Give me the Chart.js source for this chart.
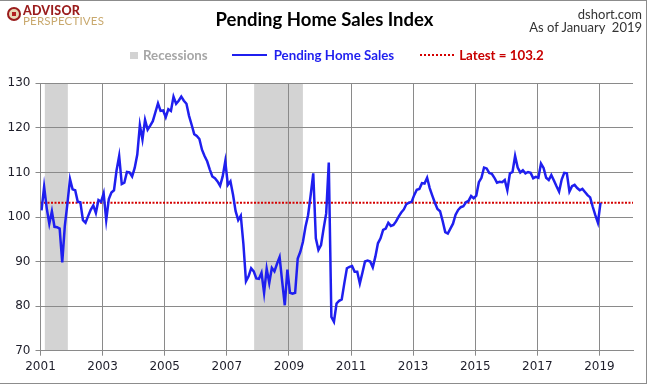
<!DOCTYPE html>
<html>
<head>
<meta charset="utf-8">
<title>Pending Home Sales Index</title>
<script src="https://cdn.jsdelivr.net/npm/chart.js@4.4.0/dist/chart.umd.min.js"></script>
<style>
  body { margin: 0; background: #fff; }
  #box { position: relative; width: 649px; height: 385px; font-family: Lato, "Open Sans", sans-serif; }
  #box canvas { position: absolute; left: 0; top: 0; }
  .frame { position: absolute; left: 0; top: 0; width: 647px; height: 384px; box-sizing: border-box;
           border-top: 1px solid #8c8c8c; border-right: 1px solid #8c8c8c; border-bottom: 1px solid #8c8c8c; }
  .logo { position: absolute; left: 7px; top: 4px; }
  .logo .mark { position: absolute; left: 0; top: 3px; width: 10px; height: 10px; border-radius: 50%;
                border: 2px solid #9a1c1c; background: radial-gradient(circle, #b32020 30%, #e8d7b5 35%); }
  .logo .a { position: absolute; left: 16px; top: -1px; font-size: 12.5px; font-weight: 900; color: #9a1c1c; letter-spacing: 0.2px; }
  .logo .p { position: absolute; left: 16px; top: 10px; font-size: 11.5px; color: #c9a96e; letter-spacing: 0.2px; }
  .source { position: absolute; right: 7px; top: 8px; text-align: right; font-size: 13px; line-height: 12.5px; color: #333; }
  .legend { position: absolute; left: 130px; top: 47px; display: flex; align-items: center; font-size: 13.3px; font-weight: bold; white-space: nowrap; }
  .legend .box { width: 8px; height: 7px; background: #d3d3d3; margin-right: 5px; }
  .legend .line { width: 35px; height: 0; border-top: 2.5px solid #1f1fef; margin-right: 7px; }
  .legend .dots { width: 34px; height: 0; border-top: 2px dotted #d40000; margin-right: 5px; }
</style>
</head>
<body>
<div id="box">
  <canvas id="myChart" width="649" height="385"></canvas>
  <div class="logo"><span class="mark"></span><span class="a">ADVISOR</span><span class="p">PERSPECTIVES</span></div>
  <div class="source">dshort.com<br>As of January&nbsp; 2019</div>
  <div class="legend">
    <span class="box"></span><span style="color:#a6a6a6;margin-right:24px">Recessions</span>
    <span class="line"></span><span style="color:#1f1fef;margin-right:26px">Pending Home Sales</span>
    <span class="dots"></span><span style="color:#c80000">Latest = 103.2</span>
  </div>
  <div class="frame"></div>
</div>
<script>
// monthly index, Jan 2001 .. Jan 2019
const startYear = 2001;
const pendingSales = [
    101.5, 106.8, 102.0, 98.5, 101.3, 97.8, 97.7, 97.4, 89.8, 98.0, 103.0, 108.5,
    106.2, 106.0, 103.4, 103.3, 99.3, 98.7, 100.2, 101.6, 102.6, 100.9, 103.8, 103.4,
    105.3, 99.3, 104.0, 105.5, 106.0, 110.5, 113.7, 107.4, 107.7, 110.1, 110.0, 109.1,
    111.0, 114.0, 120.6, 117.4, 121.8, 119.6, 120.5, 121.5, 123.5, 125.5, 123.8, 123.9,
    122.4, 124.2, 123.8, 127.0, 125.4, 126.1, 127.0, 126.1, 125.4, 122.7, 120.7, 118.6,
    118.2, 117.5, 115.1, 113.7, 112.5, 110.7, 109.1, 108.7, 108.0, 107.0, 109.1, 112.5,
    107.2, 108.0, 105.0, 101.3, 99.3, 100.3, 94.0, 85.6, 86.7, 88.5, 87.8, 86.2,
    86.1, 87.5, 83.0, 88.4, 85.2, 88.6, 87.8, 89.5, 91.0, 85.5, 80.2, 88.2,
    83.0, 82.8, 83.0, 90.7, 92.2, 94.4, 97.8, 100.4, 104.9, 109.8, 95.2, 92.6,
    93.7, 97.4, 100.8, 112.2, 77.6, 76.5, 80.6, 81.2, 81.5, 85.1, 88.5, 88.8,
    89.0, 87.7, 87.7, 85.1, 87.5, 90.0, 90.2, 90.0, 88.7, 91.1, 94.1, 95.2,
    97.1, 97.4, 98.7, 98.0, 98.2, 99.0, 100.1, 101.0, 101.7, 102.9, 103.2, 103.4,
    104.9, 106.1, 106.3, 107.6, 107.5, 108.8, 106.5, 104.8, 103.2, 101.8, 101.3, 99.1,
    96.6, 96.3, 97.4, 98.5, 100.5, 101.6, 102.2, 102.4, 103.3, 103.6, 104.7, 104.2,
    104.8, 107.8, 108.8, 111.1, 110.9, 109.9, 109.7, 108.8, 107.7, 107.9, 107.8, 108.3,
    106.0, 109.8, 110.1, 113.7, 111.1, 110.0, 110.5, 109.8, 110.1, 109.9, 108.7, 109.0,
    108.8, 112.0, 111.0, 108.8, 108.3, 109.4, 108.2, 106.9, 105.7, 108.4, 109.9, 109.8,
    105.7, 106.9, 107.2, 106.5, 106.0, 106.3, 105.6, 104.9, 104.4, 102.3, 100.4, 98.7,
    103.2
];
const latest = 103.2;

// recessions, in fractional years
const recessionStart = [2001.14, 2007.88];
const recessionEnd = [2001.88, 2009.45];

const yearTicks = [2001, 2003, 2005, 2007, 2009, 2011, 2013, 2015, 2017, 2019];
const xMin = 2001;
const xMax = 2020.08;

// points sit mid-month
const points = pendingSales.map((v, i) => ({ x: startYear + (i + 0.4) / 12, y: v }));

// grey recession bands behind the grid
const recessionBands = {
    id: 'recessionBands',
    beforeDraw(chart) {
        const { ctx, chartArea, scales } = chart;
        ctx.save();
        ctx.fillStyle = '#d3d3d3';
        recessionStart.forEach((s, i) => {
            const x1 = scales.x.getPixelForValue(s);
            const x2 = scales.x.getPixelForValue(recessionEnd[i]);
            ctx.fillRect(x1, chartArea.top, x2 - x1, chartArea.bottom - chartArea.top);
        });
        ctx.restore();
    }
};

const tickFont = { family: 'DejaVu Sans', size: 12 };
const gridColor = '#8a8a8a';

const canva = document.getElementById('myChart').getContext('2d');
const myChart = new Chart(canva, {
    type: 'line',
    data: {
        datasets: [{
            label: 'Pending Home Sales',
            data: points,
            borderColor: '#1f1fef',
            borderWidth: 2.5,
            pointRadius: 0,
            tension: 0
        }, {
            label: 'Latest = ' + latest,
            data: [{ x: xMin, y: latest }, { x: xMax, y: latest }],
            borderColor: '#d40000',
            borderWidth: 2,
            borderDash: [2, 1.5],
            pointRadius: 0
        }]
    },
    options: {
        responsive: false,
        animation: false,
        layout: { padding: 0 },
        plugins: {
            legend: { display: false },
            tooltip: { enabled: false },
            title: {
                display: true,
                text: 'Pending Home Sales Index',
                color: '#000',
                font: { family: 'Lato', size: 18.5, weight: 'bold' },
                padding: { top: 9, bottom: 52.1 }
            }
        },
        scales: {
            x: {
                type: 'linear',
                min: xMin,
                max: xMax,
                afterBuildTicks: axis => { axis.ticks = yearTicks.map(v => ({ value: v })); },
                afterFit: axis => { axis.height = 34.3; },
                ticks: { font: tickFont, color: '#1e1e2a', padding: 4, maxRotation: 0, autoSkip: false, callback: v => String(v) },
                grid: { color: gridColor, tickLength: 5 },
                border: { color: gridColor }
            },
            y: {
                min: 70,
                max: 130,
                afterFit: axis => { axis.width = 40.5; },
                ticks: { stepSize: 10, font: tickFont, color: '#1e1e2a', padding: 5 },
                grid: { color: gridColor, tickLength: 5 },
                border: { color: gridColor }
            },
            // empty strip on the right, keeps the plot short of the page edge
            gap: {
                position: 'right',
                afterFit: axis => { axis.width = 16; },
                ticks: { display: false },
                grid: { display: false },
                border: { display: false }
            }
        }
    },
    plugins: [recessionBands]
});
</script>
</body>
</html>
